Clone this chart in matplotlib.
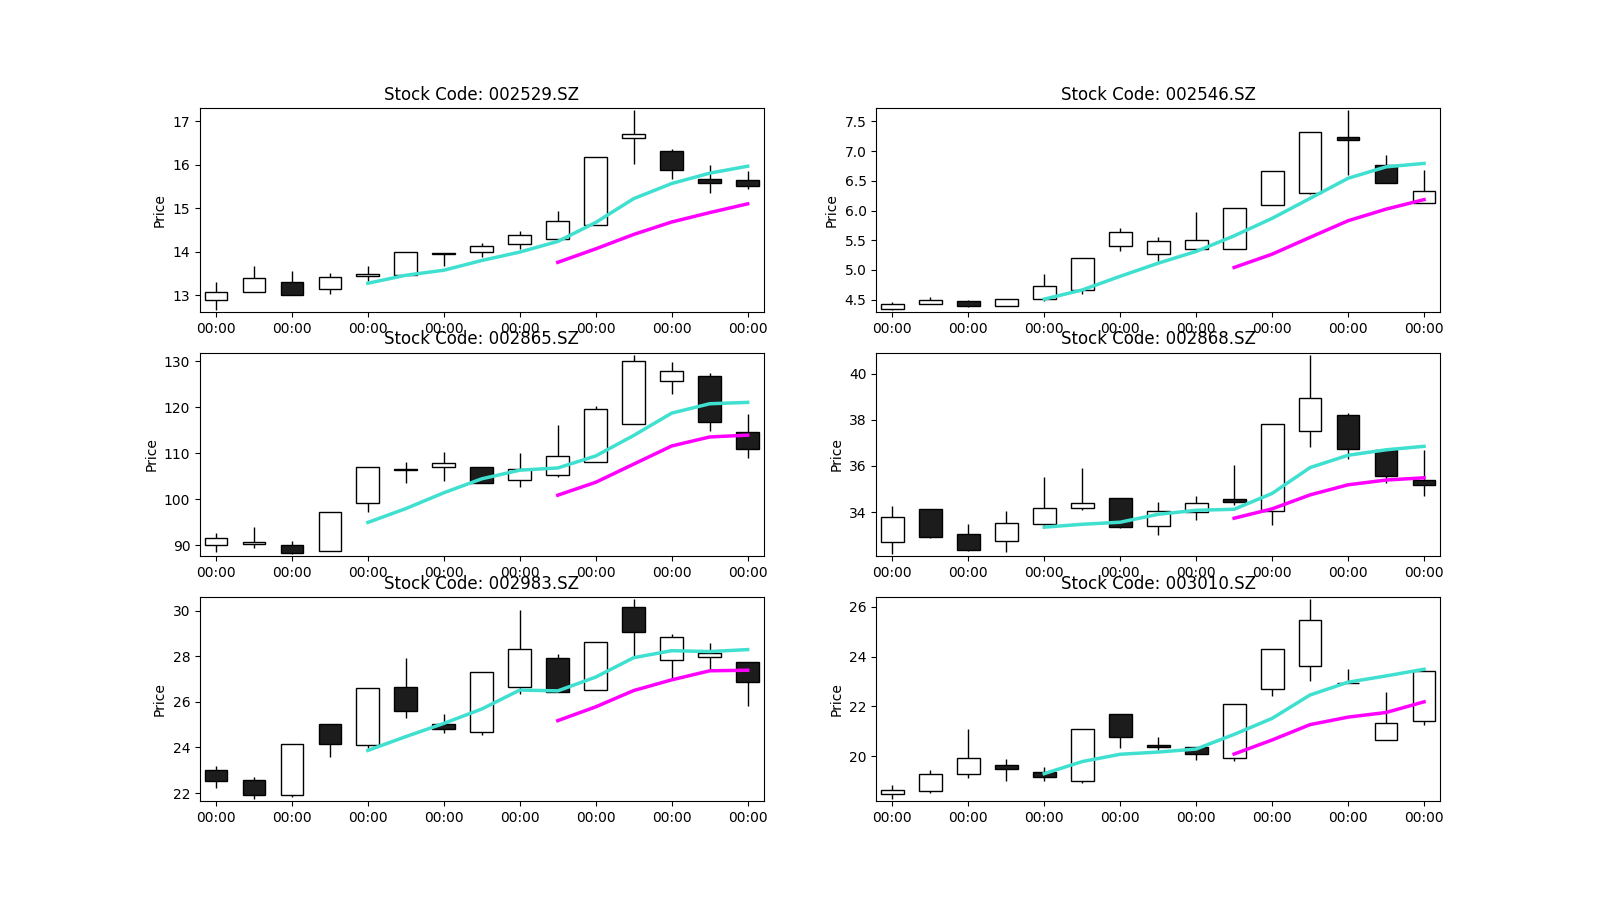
import numpy as np
import pandas as pd
import matplotlib
matplotlib.use("Agg")
import matplotlib.pyplot as plt

codes = ["002529.SZ", "002546.SZ", "002865.SZ", "002868.SZ", "002983.SZ", "003010.SZ"]

opens = [
    [12.88, 13.06, 13.30, 13.15, 13.43, 13.47, 13.95, 13.99, 14.17, 14.30, 14.61, 16.61, 16.32, 15.68, 15.66],
    [4.34, 4.42, 4.48, 4.40, 4.51, 4.66, 5.40, 5.27, 5.35, 5.35, 6.10, 6.30, 7.24, 6.77, 6.13],
    [90.15, 90.2, 90.0, 88.8, 99.1, 106.3, 107.0, 107.0, 104.2, 105.3, 108.1, 116.4, 125.8, 126.8, 114.7],
    [32.72, 34.13, 33.04, 32.76, 33.49, 34.20, 34.60, 33.38, 34.01, 34.55, 34.03, 37.52, 38.19, 36.70, 35.40],
    [23.01, 22.58, 21.90, 25.01, 24.09, 26.64, 25.04, 24.67, 26.64, 27.93, 26.50, 30.16, 27.82, 27.96, 27.74],
    [18.46, 18.59, 19.28, 19.65, 19.37, 19.00, 21.70, 20.45, 20.36, 19.92, 22.69, 23.61, 22.92, 20.66, 21.40],
]
highs = [
    [13.29, 13.66, 13.55, 13.51, 13.66, 13.99, 13.97, 14.19, 14.47, 14.93, 16.18, 17.26, 16.36, 15.99, 15.85],
    [4.46, 4.55, 4.49, 4.51, 4.94, 5.20, 5.70, 5.55, 5.98, 6.04, 6.67, 7.32, 7.69, 6.94, 6.68],
    [92.6, 93.9, 91.0, 97.2, 107.0, 108.1, 110.3, 107.0, 110.1, 116.2, 120.4, 131.5, 129.9, 127.5, 118.6],
    [34.28, 34.15, 33.49, 34.07, 35.50, 35.90, 34.60, 34.42, 34.68, 36.06, 37.82, 40.82, 38.29, 36.70, 36.70],
    [23.17, 22.70, 24.14, 25.01, 26.60, 27.91, 25.46, 27.30, 30.03, 28.09, 28.61, 30.50, 28.99, 28.57, 27.74],
    [18.84, 19.42, 21.07, 19.87, 19.54, 21.08, 21.70, 20.76, 20.36, 22.09, 24.30, 26.31, 23.49, 22.57, 23.45],
]
lows = [
    [12.66, 13.06, 12.99, 13.02, 13.33, 13.47, 13.66, 13.87, 14.06, 14.30, 14.61, 16.02, 15.67, 15.35, 15.43],
    [4.33, 4.42, 4.38, 4.40, 4.47, 4.60, 5.32, 5.15, 5.35, 5.35, 6.10, 6.27, 6.59, 6.46, 6.13],
    [88.5, 89.3, 88.0, 88.8, 97.3, 103.5, 104.0, 103.6, 102.7, 104.8, 108.1, 116.4, 123.0, 114.8, 109.0],
    [32.17, 32.90, 32.31, 32.26, 33.32, 34.10, 33.32, 33.03, 33.64, 34.31, 33.46, 36.82, 36.30, 35.25, 34.70],
    [22.23, 21.74, 21.83, 23.57, 23.99, 25.28, 24.63, 24.55, 26.35, 26.42, 26.50, 27.91, 27.01, 27.40, 25.80],
    [18.27, 18.51, 19.12, 19.01, 19.01, 18.93, 20.31, 20.25, 19.84, 19.80, 22.40, 23.01, 22.92, 20.66, 21.25],
]
closes = [
    [13.07, 13.39, 13.01, 13.41, 13.48, 13.99, 13.97, 14.13, 14.38, 14.70, 16.18, 16.71, 15.87, 15.57, 15.50],
    [4.43, 4.49, 4.39, 4.51, 4.73, 5.20, 5.64, 5.49, 5.50, 6.04, 6.67, 7.32, 7.18, 6.46, 6.33],
    [91.5, 90.7, 88.4, 97.2, 107.0, 106.6, 107.9, 103.6, 106.6, 109.4, 119.7, 130.2, 127.9, 116.8, 110.9],
    [33.77, 32.91, 32.36, 33.51, 34.20, 34.39, 33.36, 34.07, 34.38, 34.42, 37.82, 38.96, 36.73, 35.56, 35.18],
    [22.55, 21.90, 24.14, 24.16, 26.60, 25.58, 24.79, 27.30, 28.31, 26.42, 28.61, 29.04, 28.83, 28.12, 26.85],
    [18.65, 19.28, 19.92, 19.46, 19.14, 21.08, 20.75, 20.36, 20.07, 22.09, 24.30, 25.46, 22.93, 21.33, 23.43],
]
tick_label = "00:00"

fig, axes = plt.subplots(3, 2, figsize=(16, 9))

for k, ax in enumerate(axes.flat):
    df = pd.DataFrame({"open": opens[k], "high": highs[k], "low": lows[k], "close": closes[k]})
    x = np.arange(len(df))
    up = df["close"] >= df["open"]

    # wicks behind the bodies
    ax.vlines(x, df["low"], df["high"], color="black", linewidth=1, zorder=1)
    body = (df["close"] - df["open"]).abs()
    body = body.where(body > 0, 0.005)
    ax.bar(x, body, bottom=df[["open", "close"]].min(axis=1), width=0.6,
           color=np.where(up, "white", "#1c1c1c"), edgecolor="black",
           linewidth=1, zorder=2)

    ma5 = df["close"].rolling(5).mean()
    ma10 = df["close"].rolling(10).mean()
    ax.plot(x, ma5, color="#40e0d0", linewidth=2.5, zorder=3)
    ax.plot(x, ma10, color="#ff00ff", linewidth=2.5, zorder=3)

    lo, hi = df["low"].min(), df["high"].max()
    pad = (hi - lo) * 0.01
    ax.set_ylim(lo - pad, hi + pad)
    ax.set_xlim(-0.42, 14.42)
    ax.set_xticks(x[::2])
    ax.set_xticklabels([tick_label] * len(x[::2]))
    ax.set_title(f"Stock Code: {codes[k]}")
    ax.set_ylabel("Price")

plt.savefig("out.png", dpi=100)
